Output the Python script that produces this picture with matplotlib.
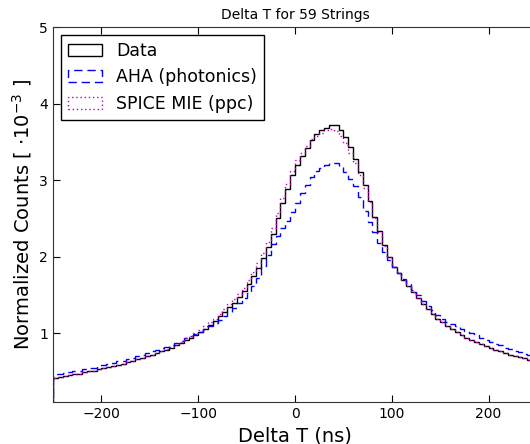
import matplotlib
matplotlib.use('Agg')
import matplotlib.pyplot as plt
import numpy as np

# histogram edges: 5 ns bins from -250 to 250
bin_edges = np.arange(-250, 251, 5)
bin_centers = 0.5 * (bin_edges[:-1] + bin_edges[1:])

data_counts = [
    0.42, 0.43, 0.44, 0.45, 0.46, 0.47, 0.49, 0.50, 0.51, 0.53,
    0.54, 0.56, 0.57, 0.59, 0.60, 0.62, 0.64, 0.66, 0.68, 0.70,
    0.72, 0.74, 0.76, 0.78, 0.81, 0.84, 0.87, 0.91, 0.94, 0.98,
    1.02, 1.06, 1.11, 1.16, 1.22, 1.28, 1.34, 1.40, 1.47, 1.55,
    1.64, 1.74, 1.85, 1.98, 2.12, 2.30, 2.50, 2.70, 2.88, 3.06,
    3.20, 3.31, 3.42, 3.52, 3.60, 3.65, 3.68, 3.72, 3.72, 3.66,
    3.56, 3.43, 3.27, 3.10, 2.93, 2.72, 2.52, 2.33, 2.15, 2.00,
    1.87, 1.78, 1.70, 1.62, 1.54, 1.46, 1.38, 1.31, 1.25, 1.19,
    1.14, 1.09, 1.05, 1.01, 0.97, 0.94, 0.91, 0.88, 0.86, 0.83,
    0.81, 0.78, 0.76, 0.74, 0.72, 0.70, 0.69, 0.67, 0.65, 0.63,
]

aha_counts = [
    0.46, 0.47, 0.48, 0.49, 0.50, 0.51, 0.53, 0.54, 0.55, 0.57,
    0.58, 0.60, 0.61, 0.63, 0.64, 0.66, 0.68, 0.70, 0.72, 0.74,
    0.76, 0.78, 0.80, 0.82, 0.84, 0.87, 0.90, 0.93, 0.96, 0.99,
    1.02, 1.05, 1.09, 1.13, 1.17, 1.22, 1.27, 1.33, 1.39, 1.46,
    1.53, 1.62, 1.72, 1.88, 2.02, 2.16, 2.27, 2.37, 2.47, 2.58,
    2.70, 2.83, 2.94, 3.04, 3.12, 3.16, 3.20, 3.22, 3.22, 3.17,
    3.10, 3.02, 2.92, 2.78, 2.60, 2.45, 2.32, 2.18, 2.06, 1.96,
    1.87, 1.79, 1.71, 1.64, 1.57, 1.50, 1.42, 1.36, 1.30, 1.24,
    1.19, 1.15, 1.12, 1.09, 1.06, 1.03, 1.00, 0.97, 0.94, 0.91,
    0.89, 0.86, 0.84, 0.81, 0.79, 0.77, 0.75, 0.73, 0.71, 0.69,
]

spice_counts = [
    0.42, 0.43, 0.44, 0.45, 0.46, 0.47, 0.49, 0.50, 0.51, 0.53,
    0.54, 0.56, 0.57, 0.59, 0.60, 0.62, 0.64, 0.66, 0.68, 0.70,
    0.72, 0.74, 0.76, 0.79, 0.82, 0.85, 0.89, 0.93, 0.96, 1.00,
    1.04, 1.09, 1.14, 1.19, 1.25, 1.31, 1.38, 1.44, 1.51, 1.59,
    1.69, 1.80, 1.91, 2.05, 2.19, 2.37, 2.57, 2.77, 2.95, 3.12,
    3.26, 3.36, 3.45, 3.53, 3.58, 3.62, 3.66, 3.67, 3.64, 3.58,
    3.48, 3.36, 3.22, 3.06, 2.90, 2.71, 2.51, 2.32, 2.14, 1.99,
    1.87, 1.78, 1.70, 1.62, 1.54, 1.46, 1.38, 1.31, 1.25, 1.19,
    1.14, 1.09, 1.05, 1.01, 0.97, 0.94, 0.91, 0.88, 0.86, 0.83,
    0.81, 0.78, 0.76, 0.74, 0.72, 0.70, 0.69, 0.67, 0.65, 0.63,
]

series_labels = ['Data', 'AHA (photonics)', 'SPICE MIE (ppc)']

fig = plt.figure(figsize=(5.3, 4.44), dpi=100)
# the right edge of the axes runs a little past the figure, as in the original
ax = fig.add_axes([53 / 530., 42 / 444., 484 / 530., 375 / 444.])

ax.hist(bin_centers, bins=bin_edges, weights=data_counts, histtype='step',
        color='k', linewidth=1.0, label=series_labels[0])
ax.hist(bin_centers, bins=bin_edges, weights=aha_counts, histtype='step',
        color='b', linestyle=(0, (6, 3.5)), linewidth=1.0, label=series_labels[1])
ax.hist(bin_centers, bins=bin_edges, weights=spice_counts, histtype='step',
        color='m', linestyle=(0, (1, 2)), linewidth=1.0, label=series_labels[2])

ax.set_xlim(-250, 250)
ax.set_ylim(0.1, 5)
ax.set_xticks([-200, -100, 0, 100, 200])
ax.set_yticks([1, 2, 3, 4, 5])
ax.tick_params(direction='in', top=True, right=True, length=5, labelsize=10)
for sp in ax.spines.values():
    sp.set_color('#333333')

ax.set_title('Delta T for 59 Strings', fontsize=10)
ax.set_xlabel('Delta T (ns)', fontsize=14)
ax.set_ylabel(r'Normalized Counts [ $\cdot 10^{-3}$ ]', fontsize=14)

leg = ax.legend(loc='upper left', fontsize=12.5, fancybox=False, framealpha=1,
                edgecolor='k', borderaxespad=0.45, handlelength=2.0)
leg.get_frame().set_linewidth(1.0)

fig.savefig('out.png', dpi=100)
